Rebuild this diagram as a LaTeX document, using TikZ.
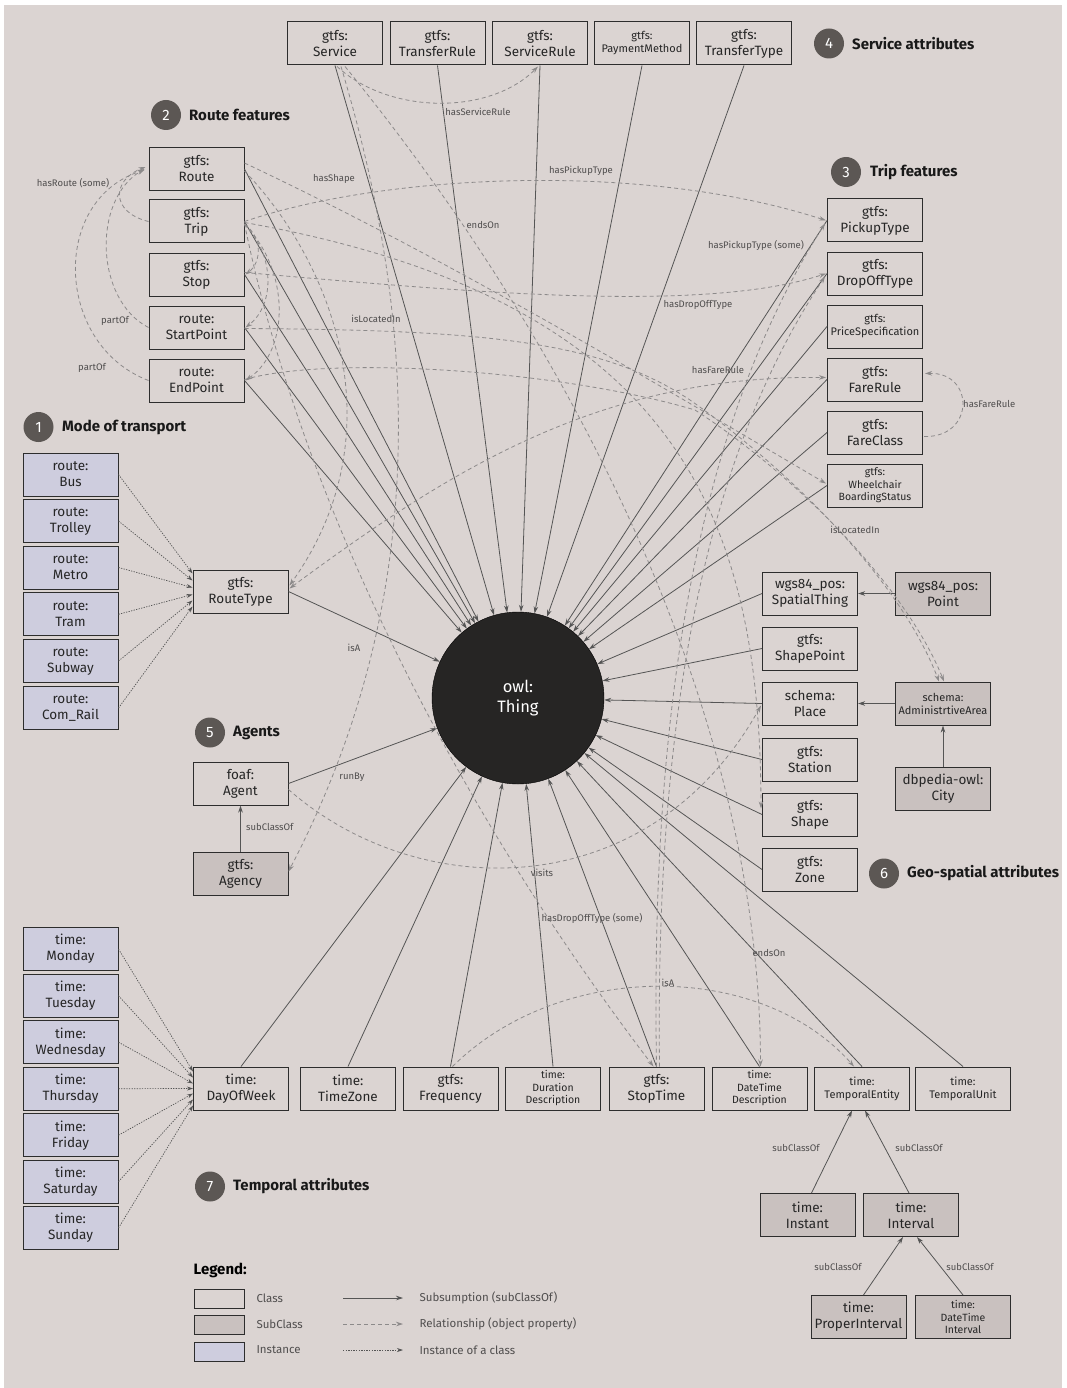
\documentclass[tikz,border=0pt]{standalone}
\usepackage{fontspec}
\setmainfont{Fira Sans}
\usetikzlibrary{arrows.meta,calc}
\definecolor{bgc}{RGB}{219,212,210}
\definecolor{subfill}{RGB}{201,193,191}
\definecolor{instfill}{RGB}{206,205,222}
\definecolor{boxdraw}{RGB}{45,45,45}
\definecolor{solidc}{RGB}{85,85,85}
\definecolor{dashc}{RGB}{140,138,138}
\definecolor{badgec}{RGB}{92,87,84}
\definecolor{thingc}{RGB}{38,37,36}
\definecolor{labc}{RGB}{80,78,78}
\newcommand\fsz[2]{\fontsize{#1}{#2}\selectfont}
\begin{document}
\begin{tikzpicture}[x=1pt,y=-1pt,
  box/.style={draw=boxdraw,line width=1pt,minimum width=95pt,minimum height=43pt,inner sep=0pt,align=center,font=\fsz{13.5}{16},text=black!85},
  sbox/.style={box,font=\fsz{11}{13}},
  tbox/.style={box,font=\fsz{10.5}{12.5}},
  subc/.style={fill=subfill},
  instc/.style={fill=instfill},
  sub/.style={draw=solidc,line width=0.8pt,-{Stealth[length=7pt,width=4.5pt]}},
  rel/.style={draw=dashc,line width=0.8pt,dash pattern=on 4pt off 3pt,-{Stealth[length=7pt,width=4.5pt]}},
  inst/.style={draw=solidc,line width=0.7pt,dash pattern=on 1.3pt off 1.3pt,-{Stealth[length=6pt,width=4pt]}},
  elab/.style={font=\fsz{9.5}{11},text=labc,inner sep=1pt},
  badge/.style={circle,fill=badgec,minimum size=30pt,inner sep=0pt,text=white,font=\fsz{15}{16}},
  btitle/.style={anchor=west,font=\fsz{15}{18}\bfseries,text=black!90,inner sep=0pt},
]
\useasboundingbox (0,0) rectangle (1066,1388);
\fill[white] (0,0) rectangle (1066,1388);
\fill[bgc] (4,5) rectangle (1062,1388);

% ---------- badges and titles
\node[badge] (b1) at (38.5,427) {1}; \node[btitle] (t1) at (62,427) {Mode of transport};
\node[badge] (b2) at (166,115) {2}; \node[btitle] (t2) at (189,115) {Route features};
\node[badge] (b3) at (846,172) {3}; \node[btitle] (t3) at (870,172) {Trip features};
\node[badge] (b4) at (829,43.5) {4}; \node[btitle] (t4) at (852,43.5) {Service attributes};
\node[badge] (b5) at (210,732.5) {5}; \node[btitle] (t5) at (233,732.5) {Agents};
\node[badge] (b6) at (884,873.5) {6}; \node[btitle] (t6) at (907,873.5) {Geo-spatial attributes};
\node[badge] (b7) at (210,1186.5) {7}; \node[btitle] (t7) at (233,1186.5) {Temporal attributes};

% ---------- service attributes
\node[box] (svc) at (335,43.5) {gtfs:\\Service};
\node[box] (trule) at (437.5,43.5) {gtfs:\\TransferRule};
\node[box] (srule) at (540,43.5) {gtfs:\\ServiceRule};
\node[sbox] (pay) at (642,43.5) {gtfs:\\PaymentMethod};
\node[box] (ttype) at (744,43.5) {gtfs:\\TransferType};

% ---------- route features
\node[box] (route) at (196.5,169) {gtfs:\\Route};
\node[box] (trip) at (196.5,221.5) {gtfs:\\Trip};
\node[box] (stop) at (196.5,274.5) {gtfs:\\Stop};
\node[box] (startp) at (196.5,327.5) {route:\\StartPoint};
\node[box] (endp) at (196.5,380.5) {route:\\EndPoint};

% ---------- trip features
\node[box] (pick) at (875,220.5) {gtfs:\\PickupType};
\node[box] (drop) at (875,273.5) {gtfs:\\DropOffType};
\node[sbox] (price) at (875,326.5) {gtfs:\\PriceSpecification};
\node[box] (fare) at (875,379.5) {gtfs:\\FareRule};
\node[box] (fclass) at (875,432.5) {gtfs:\\FareClass};
\node[tbox] (wheel) at (875,485.5) {gtfs:\\Wheelchair\\BoardingStatus};

% ---------- modes
\node[box,instc] (bus) at (70.5,474.5) {route:\\Bus};
\node[box,instc] (trolley) at (70.5,521) {route:\\Trolley};
\node[box,instc] (metro) at (70.5,567.5) {route:\\Metro};
\node[box,instc] (tram) at (70.5,614.3) {route:\\Tram};
\node[box,instc] (subway) at (70.5,661) {route:\\Subway};
\node[box,instc] (rail) at (70.5,708) {route:\\Com\_Rail};
\node[box] (rtype) at (240.5,591.5) {gtfs:\\RouteType};

% ---------- thing
\node[circle,fill=thingc,draw=black,minimum size=172pt,inner sep=0pt,align=center,text=white,font=\fsz{16.5}{20}] (thing) at (518,698) {owl:\\Thing};

% ---------- agents
\node[box] (agent) at (240.5,783.5) {foaf:\\Agent};
\node[box,subc] (agency) at (240.5,873.5) {gtfs:\\Agency};

% ---------- geo
\node[box] (spatial) at (810,593.5) {wgs84\_pos:\\SpatialThing};
\node[box] (shapept) at (810,648.5) {gtfs:\\ShapePoint};
\node[box] (place) at (810,703.5) {schema:\\Place};
\node[box] (station) at (810,759.5) {gtfs:\\Station};
\node[box] (shape) at (810,814.5) {gtfs:\\Shape};
\node[box] (zone) at (810,869.5) {gtfs:\\Zone};
\node[box,subc] (point) at (943,593.5) {wgs84\_pos:\\Point};
\node[sbox,subc] (admin) at (943,703.5) {schema:\\AdministrtiveArea};
\node[box,subc] (city) at (943,788.5) {dbpedia-owl:\\City};

% ---------- days
\node[box,instc] (mon) at (70.5,949) {time:\\Monday};
\node[box,instc] (tue) at (70.5,995.7) {time:\\Tuesday};
\node[box,instc] (wed) at (70.5,1042.2) {time:\\Wednesday};
\node[box,instc] (thu) at (70.5,1088.7) {time:\\Thursday};
\node[box,instc] (fri) at (70.5,1135.2) {time:\\Friday};
\node[box,instc] (sat) at (70.5,1181.6) {time:\\Saturday};
\node[box,instc] (sun) at (70.5,1228) {time:\\Sunday};

% ---------- temporal row
\node[box] (dow) at (241,1088.5) {time:\\DayOfWeek};
\node[box] (tz) at (348,1088.5) {time:\\TimeZone};
\node[box] (freq) at (450.5,1088.5) {gtfs:\\Frequency};
\node[tbox] (dur) at (553,1088.5) {time:\\Duration\\Description};
\node[box] (stt) at (656.5,1088.5) {gtfs:\\StopTime};
\node[tbox] (dtd) at (759.5,1088.5) {time:\\DateTime\\Description};
\node[sbox] (tent) at (862,1088.5) {time:\\TemporalEntity};
\node[sbox] (tunit) at (963,1088.5) {time:\\TemporalUnit};
\node[box,subc] (instant) at (807.5,1215) {time:\\Instant};
\node[box,subc] (interval) at (911,1215) {time:\\Interval};
\node[box,subc] (pint) at (858.5,1317) {time:\\ProperInterval};
\node[tbox,subc] (dti) at (963,1317) {time:\\DateTime\\Interval};

% ---------- instance arrows
\foreach \n/\d in {bus/-18,trolley/-11,metro/-4,tram/3,subway/9,rail/15}
  \draw[inst] (\n.east) -- ($(rtype.west)+(0,\d)$);
\foreach \n/\d in {mon/-17,tue/-11,wed/-5,thu/0,fri/5,sat/11,sun/17}
  \draw[inst] (\n.east) -- ($(dow.west)+(0,\d)$);

% ---------- subsumption to owl:Thing
\foreach \n in {svc,trule,srule,pay,ttype} \draw[sub] (\n.south) -- (thing);
\foreach \n in {route,trip,stop,startp,endp,rtype,agent} \draw[sub] (\n.east) -- (thing);
\foreach \n in {pick,drop,price,fare,fclass,wheel,spatial,shapept,place,station,shape,zone} \draw[sub] (\n.west) -- (thing);
\foreach \n in {dow,tz,freq,dur,stt,dtd,tent,tunit} \draw[sub] (\n.north) -- (thing);

% ---------- subclass arrows
\draw[sub] (agency.north) -- (agent.south);
\node[elab,anchor=west] (l-sc1) at (245,827) {subClassOf};
\draw[sub] (point.west) -- (spatial.east);
\draw[sub] (admin.west) -- (place.east);
\draw[sub] (city.north) -- (admin.south);
\draw[sub] ($(instant.north)+(4,0)$) -- ($(tent.south)+(-10,0)$);
\draw[sub] ($(interval.north)+(-2,0)$) -- ($(tent.south)+(3,0)$);
\draw[sub] ($(pint.north)+(5,0)$) -- ($(interval.south)+(-8,0)$);
\draw[sub] ($(dti.north)+(0,0)$) -- ($(interval.south)+(6,0)$);
\node[elab] (l-sc2) at (796,1148) {subClassOf};
\node[elab] (l-sc3) at (919,1148) {subClassOf};
\node[elab] (l-sc4) at (838,1267) {subClassOf};
\node[elab] (l-sc5) at (970,1267) {subClassOf};

% ---------- object properties
\draw[rel] ($(svc.south)+(2,1)$) .. controls (390,115) and (490,115) .. ($(srule.south)+(-2,1)$);
\node[elab] (l-hsr) at (478,112) {hasServiceRule};

% left arcs into Route
\draw[rel] (trip.west) .. controls (110,212) and (112,180) .. ($(route.west)+(-3,-2)$);
\draw[rel] (startp.west) .. controls (95,300) and (92,200) .. ($(route.west)+(-4,0)$);
\draw[rel] (endp.west) .. controls (55,345) and (50,200) .. ($(route.west)+(-4,1)$);
\node[elab] (l-hr) at (73,183) {hasRoute (some)};
\node[elab] (l-po1) at (115,321) {partOf};
\node[elab] (l-po2) at (92,368) {partOf};

% short loops on the right of the route column
\draw[rel] ($(trip.east)+(0,3)$) .. controls (262,236) and (262,262) .. ($(stop.east)+(1,0)$);
\draw[rel] ($(trip.east)+(0,3)$) .. controls (275,255) and (275,305) .. ($(startp.east)+(1,0)$);
\draw[rel] ($(trip.east)+(0,3)$) .. controls (290,270) and (290,350) .. ($(endp.east)+(1,0)$);

% Route -> RouteType
\draw[rel] ($(route.east)+(0,2)$) .. controls (330,260) and (400,430) .. ($(rtype.east)+(1,-6)$);

\draw[rel] (trip.east) .. controls (380,175) and (640,160) .. ($(pick.west)+(-1,0)$);
\node[elab] (l-hpt) at (581,171) {hasPickupType};
\draw[rel] ($(stop.east)+(0,-2)$) .. controls (450,290) and (700,315) .. ($(drop.west)+(-1,0)$);
\node[elab] (l-hdt) at (698,305) {hasDropOffType};

\draw[rel] ($(route.east)+(0,-6)$) .. controls (450,260) and (650,380) .. ($(wheel.west)+(-1,-2)$);
\node[elab] (l-hs) at (334,179) {hasShape};
\draw[rel] ($(trip.east)+(0,1)$) .. controls (680,300) and (760,520) .. ($(shape.west)+(-1,-6)$);

\draw[rel] ($(fclass.east)+(1,4)$) .. controls (975,438) and (975,372) .. ($(fare.east)+(2,-6)$);
\node[elab,anchor=west] (l-hfr2) at (962,404) {hasFareRule};
\draw[rel,{Stealth[length=7pt,width=4.5pt]}-{Stealth[length=7pt,width=4.5pt]}] ($(rtype.east)+(1,-3)$) .. controls (450,470) and (600,375) .. ($(fare.west)+(-1,-2)$);
\node[elab] (l-hfr) at (718,370) {hasFareRule};

% isLocatedIn (start / end point -> administrative area)
\draw[rel] ($(startp.east)+(0,1)$) .. controls (480,330) and (600,340) .. (690,400) .. controls (790,470) and (900,580) .. ($(admin.north)+(-4,0)$);
\draw[rel] ($(endp.east)+(0,-1)$) .. controls (330,355) and (560,370) .. (695,410) .. controls (795,475) and (905,585) .. ($(admin.north)+(1,0)$);
\node[elab] (l-loc1) at (376,319) {isLocatedIn};
\node[elab] (l-loc2) at (855,530) {isLocatedIn};

\draw[rel] ($(agent.east)+(0,6)$) .. controls (420,905) and (650,905) .. ($(place.west)+(-1,2)$);
\node[elab] (l-vis) at (542,873) {visits};

\draw[rel] ($(svc.south)+(6,1)$) .. controls (420,330) and (430,600) .. ($(agency.east)+(0,-2)$);
\node[elab] (l-run) at (352,777) {runBy};

\draw[rel] ($(svc.south)+(10,1)$) .. controls (560,330) and (760,700) .. ($(dtd.north)+(1,0)$);
\node[elab] (l-eo1) at (483,225) {endsOn};
\node[elab] (l-eo2) at (769,953) {endsOn};

\draw[rel] ($(freq.north)+(2,0)$) .. controls (560,960) and (760,960) .. ($(tent.north)+(-8,0)$);
\node[elab] (l-isa2) at (668,983) {isA};

\draw[rel] ($(stt.north)+(0,0)$) .. controls (650,700) and (700,420) .. ($(pick.west)+(-2,3)$);
\draw[rel] ($(stt.north)+(3,0)$) .. controls (655,700) and (710,450) .. ($(drop.west)+(-2,3)$);
\node[elab] (l-hpts) at (756,245) {hasPickupType (some)};
\draw[rel] ($(trip.east)+(0,2)$) .. controls (290,450) and (420,760) .. ($(stt.north)+(-3,0)$);
\node[elab] (l-hdts) at (592,918) {hasDropOffType (some)};
\node[elab] (l-isa1) at (354,648) {isA};

% ---------- legend
\node[anchor=west,font=\fsz{15}{17}\bfseries,inner sep=0pt] (leg) at (193.5,1270) {Legend:};
\node[draw=boxdraw,line width=1pt,minimum width=50pt,minimum height=19pt,inner sep=0pt] (lg1) at (219.5,1298.5) {};
\node[draw=boxdraw,line width=1pt,minimum width=50pt,minimum height=19pt,inner sep=0pt,fill=subfill] (lg2) at (219.5,1325) {};
\node[draw=boxdraw,line width=1pt,minimum width=50pt,minimum height=19pt,inner sep=0pt,fill=instfill] (lg3) at (219.5,1351.5) {};
\node[anchor=west,font=\fsz{11.5}{13},text=labc] (lgt1) at (253,1298) {Class};
\node[anchor=west,font=\fsz{11.5}{13},text=labc] (lgt2) at (253,1324) {SubClass};
\node[anchor=west,font=\fsz{11.5}{13},text=labc] (lgt3) at (253,1350) {Instance};
\coordinate (la1) at (343,1298); \coordinate (lb1) at (403,1298);
\coordinate (la2) at (343,1324); \coordinate (lb2) at (403,1324);
\coordinate (la3) at (343,1350); \coordinate (lb3) at (403,1350);
\draw[sub] (la1) -- (lb1);
\draw[rel] (la2) -- (lb2);
\draw[inst] (la3) -- (lb3);
\node[anchor=west,font=\fsz{11.5}{13},text=labc] (lgt4) at (416,1298) {Subsumption (subClassOf)};
\node[anchor=west,font=\fsz{11.5}{13},text=labc] (lgt5) at (416,1324) {Relationship (object property)};
\node[anchor=west,font=\fsz{11.5}{13},text=labc] (lgt6) at (416,1350) {Instance of a class};
\end{tikzpicture}
\end{document}
